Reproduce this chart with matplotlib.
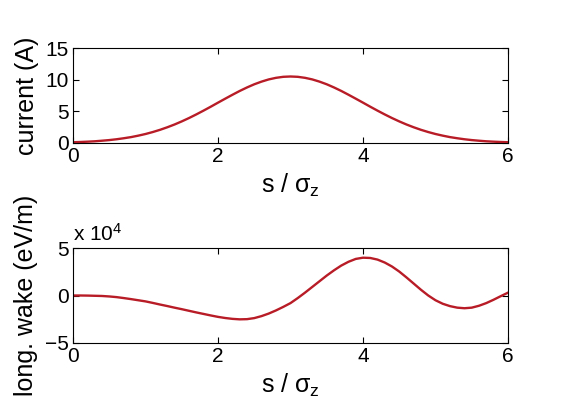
import matplotlib
matplotlib.use("Agg")
import matplotlib.pyplot as plt

# s in units of sigma_z, 0 .. 6 in steps of 0.1
s_vals = [i / 10 for i in range(61)]

# bunch current (A)
current_A = [0.12, 0.16, 0.21, 0.27, 0.36, 0.46, 0.59, 0.75, 0.93, 1.16,
             1.42, 1.73, 2.08, 2.48, 2.92, 3.41, 3.94, 4.51, 5.11, 5.73,
             6.37, 7.00, 7.62, 8.22, 8.77, 9.27, 9.69, 10.04, 10.29, 10.45,
             10.5,
             10.45, 10.29, 10.04, 9.69, 9.27, 8.77, 8.22, 7.62, 7.00, 6.37,
             5.73, 5.11, 4.51, 3.94, 3.41, 2.92, 2.48, 2.08, 1.73, 1.42,
             1.16, 0.93, 0.75, 0.59, 0.46, 0.36, 0.27, 0.21, 0.16, 0.12]

# longitudinal wake in units of 1e4 eV/m
wake_1e4 = [0.0, 0.0, -0.01, -0.03, -0.05, -0.10, -0.17, -0.27, -0.38, -0.50,
            -0.62, -0.78, -0.95, -1.11, -1.28, -1.44, -1.61, -1.78, -1.94, -2.10,
            -2.25, -2.37, -2.46, -2.51, -2.49, -2.38, -2.17, -1.90, -1.57, -1.20,
            -0.80, -0.27, 0.30, 0.90, 1.50, 2.10, 2.65, 3.15, 3.55, 3.85,
            3.98, 3.95, 3.78, 3.47, 3.05, 2.52, 1.90, 1.25, 0.60, 0.0,
            -0.50, -0.87, -1.12, -1.28, -1.34, -1.28, -1.08, -0.80, -0.45, -0.07,
            0.30]

x_ticks = [0, 2, 4, 6]
cur_ticks = [0, 5, 10, 15]
wake_ticks = [-5, 0, 5]

plt.rcParams['font.family'] = ['Liberation Sans', 'DejaVu Sans']
plt.rcParams['mathtext.fontset'] = 'custom'
plt.rcParams['mathtext.rm'] = 'Liberation Sans'
plt.rcParams['mathtext.it'] = 'Liberation Sans'

line_col = '#b81c26'
tick_fs = 15
label_fs = 18

fig = plt.figure(figsize=(5.61, 4.2), dpi=100)
W, H = 561.0, 420.0
ax1 = fig.add_axes([73 / W, 1 - 143 / H, 435 / W, 95 / H])
ax2 = fig.add_axes([73 / W, 1 - 343 / H, 435 / W, 95 / H])

ax1.plot(s_vals, current_A, color=line_col, lw=1.7)
ax2.plot(s_vals, wake_1e4, color=line_col, lw=1.7)

ax1.set_ylim(0, 15)
ax1.set_yticks(cur_ticks)
ax2.set_ylim(-5, 5)
ax2.set_yticks(wake_ticks)

for ax in (ax1, ax2):
    ax.set_xlim(0, 6)
    ax.set_xticks(x_ticks)
    ax.tick_params(direction='in', top=True, right=True, length=4, width=0.8,
                   labelsize=tick_fs, pad=3)
    for sp in ax.spines.values():
        sp.set_linewidth(0.8)
    ax.set_xlabel(r's / $\sigma_z$', fontsize=label_fs, labelpad=4)

ax1.set_ylabel('current (A)', fontsize=label_fs, labelpad=5)
ax2.set_ylabel('long. wake (eV/m)', fontsize=label_fs, labelpad=5)

# exponent label above the lower panel, as in the original
fig.text(73 / W, 1 - 241 / H, r'x 10$^4$', fontsize=tick_fs, va='baseline')

fig.savefig('out.png', dpi=100)
